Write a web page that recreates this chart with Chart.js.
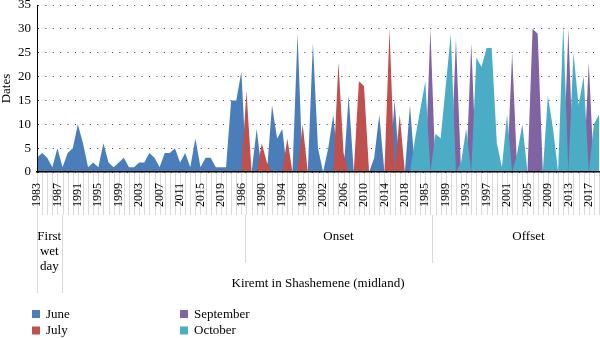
<!DOCTYPE html>
<html>
<head>
<meta charset="utf-8">
<script src="https://cdn.jsdelivr.net/npm/chart.js@4.4.1/dist/chart.umd.min.js"></script>
<style>
  html, body { margin: 0; padding: 0; background: #fff; }
  #wrap { width: 600px; height: 338px; overflow: hidden; }
</style>
</head>
<body>
<div id="wrap"><canvas id="kiremt" width="600" height="338"></canvas></div>
<script>
// years of each block on the category axis
const years = [1983, 1984, 1985, 1986, 1987, 1988, 1989, 1990, 1991, 1992,
  1993, 1994, 1995, 1996, 1997, 1998, 1999, 2000, 2001, 2002,
  2003, 2004, 2005, 2006, 2007, 2008, 2009, 2010, 2011, 2012,
  2013, 2014, 2015, 2016, 2017, 2018, 2019];

// day of the month for each year
const firstWetDay = [3, 4, 3, 1, 5, 1, 4, 5, 10, 6, 1, 2, 1, 6, 2, 1, 2, 3, 1, 1,
  2, 2, 4, 3, 1, 4, 4, 5, 2, 4, 1, 7, 1, 3, 3, 1, 1];
const onsetDay = [1, 15, 15, 21, 17, 0, 9, 6, 2, 14, 7, 9, 7, 0, 29, 10, 0, 27, 5, 0,
  5, 12, 23, 4, 16, 0, 19, 18, 0, 3, 12, 0, 30, 15, 12, 0, 14];
const offsetDay = [7, 13, 19, 30, 8, 7, 18, 29, 28, 2, 9, 27, 24, 22, 26, 26, 6, 1, 12, 25,
  4, 10, 0, 30, 29, 0, 16, 9, 0, 31, 30, 25, 14, 20, 23, 10, 12];

// month of each value: 0 June, 1 July, 2 September, 3 October, -1 none
const months = ['June', 'July', 'September', 'October'];
const firstWetMonth = [0, 0, 0, 0, 0, 0, 0, 0, 0, 0, 0, 0, 0, 0, 0, 0, 0, 0, 0, 0,
  0, 0, 0, 0, 0, 0, 0, 0, 0, 0, 0, 0, 0, 0, 0, 0, 0];
const onsetMonth = [0, 0, 0, 0, 1, -1, 0, 1, 1, 0, 0, 0, 1, -1, 0, 1, -1, 0, 0, -1,
  0, 0, 1, 1, 0, -1, 1, 1, -1, 0, 0, -1, 1, 0, 1, -1, 0];
const offsetMonth = [3, 3, 3, 2, 3, 3, 3, 3, 2, 3, 3, 2, 3, 3, 3, 3, 3, 3, 3, 2,
  3, 3, -1, 2, 2, -1, 3, 3, -1, 3, 2, 3, 3, 3, 2, 3, 3];

const yTicks = [0, 5, 10, 15, 20, 25, 30, 35];

const colors = ['#4a7ebb', '#c0504d', '#8064a2', '#4bacc6'];
const FONT = '"Liberation Serif", "Times New Roman", serif';

const categories = [...years, ...years, ...years];
const allDays = [...firstWetDay, ...onsetDay, ...offsetDay];
const allMonths = [...firstWetMonth, ...onsetMonth, ...offsetMonth];

// one area per month, zero where the year belongs to another month
const datasets = months.map((name, m) => ({
  label: name,
  data: allDays.map((d, i) => allMonths[i] === m ? d : 0),
  backgroundColor: colors[m],
  borderWidth: 0,
  pointRadius: 0,
  tension: 0,
  fill: 'origin',
  order: months.length - m   // later months drawn on top
}));

Chart.defaults.font.family = FONT;
Chart.defaults.color = '#000';

// multi-level category labels and the legend under the axis
const axisGroups = {
  id: 'axisGroups',
  beforeDraw(chart) {
    const {ctx} = chart;
    const x = chart.scales.x;
    const top = x.top;
    ctx.save();
    ctx.strokeStyle = '#dadada';
    ctx.lineWidth = 1;
    ctx.beginPath();
    for (let i = 0; i < categories.length; i++) {
      const px = Math.round(x.getPixelForValue(i)) + 0.5;
      ctx.moveTo(px, top);
      ctx.lineTo(px, top + 43);
    }
    [0, 4.8].forEach(v => {
      const px = Math.round(x.getPixelForValue(v)) + 0.5;
      ctx.moveTo(px, top + 43);
      ctx.lineTo(px, top + 121);
    });
    [40.7, 77.3].forEach(v => {
      const px = Math.round(x.getPixelForValue(v)) + 0.5;
      ctx.moveTo(px, top + 43);
      ctx.lineTo(px, top + 91);
    });
    ctx.stroke();
    ctx.restore();
  },
  afterDraw(chart) {
    const {ctx} = chart;
    const x = chart.scales.x;
    const top = x.top;
    ctx.save();
    ctx.fillStyle = '#000';
    ctx.font = '13px ' + FONT;
    ctx.textAlign = 'center';
    ctx.textBaseline = 'middle';
    const fx = (x.getPixelForValue(0) + x.getPixelForValue(4.8)) / 2;
    ctx.fillText('First', fx, top + 65);
    ctx.fillText('wet', fx, top + 80);
    ctx.fillText('day', fx, top + 95);
    ctx.fillText('Onset', (x.getPixelForValue(40.7) + x.getPixelForValue(77.3)) / 2, top + 65);
    ctx.fillText('Offset', x.getPixelForValue(96.2), top + 65);
    ctx.fillText('Kiremt in Shashemene (midland)', 318, top + 112);

    // legend, two columns
    const spots = [[32, 310], [32, 326.5], [180, 310], [180, 326.5]];
    ctx.textAlign = 'left';
    months.forEach((name, m) => {
      const [lx, ly] = spots[m];
      ctx.fillStyle = colors[m];
      ctx.fillRect(lx, ly, 8, 8);
      ctx.fillStyle = '#000';
      ctx.fillText(name, lx + 14, ly + 4.5);
    });
    ctx.restore();
  }
};

new Chart(document.getElementById('kiremt'), {
  type: 'line',
  data: { labels: categories, datasets: datasets },
  options: {
    responsive: false,
    animation: false,
    devicePixelRatio: 1,
    layout: { padding: { top: 5, right: 1, left: 0, bottom: 0 } },
    plugins: { legend: { display: false }, tooltip: { enabled: false } },
    scales: {
      x: {
        offset: false,
        grid: { display: false },
        border: { color: '#000', width: 1.5, z: 1 },
        ticks: {
          autoSkip: false, minRotation: 90, maxRotation: 90, padding: 3,
          font: { size: 12 }, color: '#000',
          callback(v, i) { return i % 4 === 0 ? this.getLabelForValue(v) : ''; }
        },
        afterFit(s) { s.height = 166; s.paddingLeft = 0; s.paddingRight = 0; }
      },
      y: {
        min: yTicks[0],
        max: yTicks[yTicks.length - 1],
        afterBuildTicks(s) { s.ticks = yTicks.map(v => ({ value: v })); },
        grid: { color: '#3a3a3a', lineWidth: 1, drawTicks: false },
        border: { color: '#000', width: 1, dash: [1, 6.4], z: 1 },
        ticks: { padding: 6, font: { size: 13 }, color: '#000' },
        title: { display: true, text: 'Dates', padding: 0, font: { size: 13, lineHeight: 1 }, color: '#000' },
        afterFit(s) { s.width = 37; s.paddingTop = 0; s.paddingBottom = 0; }
      }
    }
  },
  plugins: [axisGroups]
});
</script>
</body>
</html>
